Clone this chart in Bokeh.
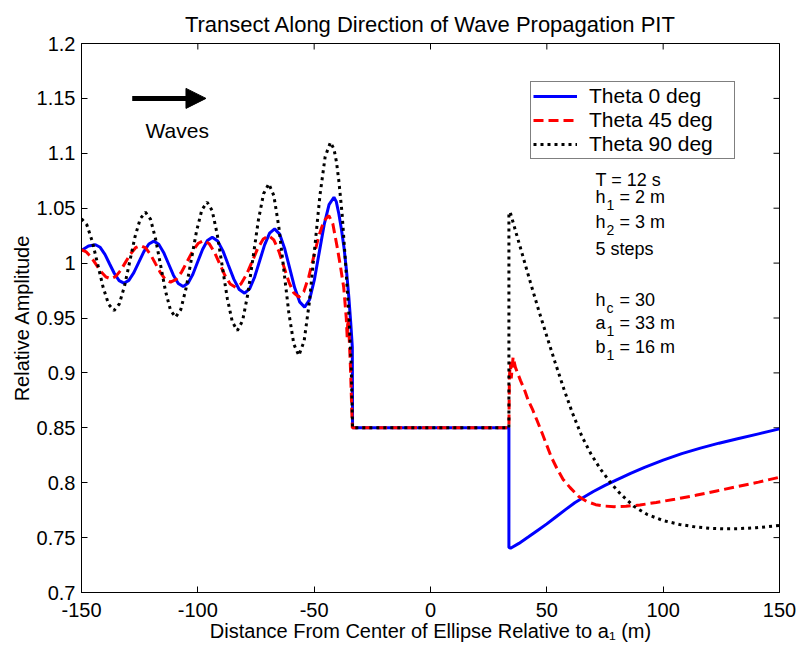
import math
from bokeh.plotting import figure
from bokeh.models import (Range1d, FixedTicker, Legend, LegendItem,
                          Label, Arrow, NormalHead)
from bokeh.embed import file_html
from bokeh.resources import INLINE

# ---------------- data ----------------
series_names = ["Theta 0 deg", "Theta 45 deg", "Theta 90 deg"]
title_text = "Transect Along Direction of Wave Propagation PIT"

x_theta0 = [-150, -147, -144, -141.97, -139.93, -137.9, -135.87, -133.83, -131.8,
            -129.65, -127.5, -125.35, -123.2, -121.05, -118.9, -116.8, -114.7, -112.6,
            -110.5, -108.4, -106.3, -104.22, -102.13, -100.05, -97.97, -95.88, -93.8,
            -91.48, -89.17, -86.85, -84.53, -82.22, -79.9, -77.75, -75.6, -73.45, -71.3,
            -69.15, -67, -64.85, -62.7, -60.55, -58.4, -56.25, -54.1, -52.0, -49.9, -47.8,
            -45.7, -43.6, -41.5, -40.5, -39.4, -38.3, -37.2, -36.1, -35.1, -34.3, -33.6, -33.5,
            33.7, 33.7, 34.4, 38, 42, 46, 50, 54, 58, 62, 66, 70, 75, 80, 86, 92, 100,
            108, 116, 124, 132, 141, 150]
y_theta0 = [1.0115, 1.0155, 1.0167, 1.0144, 1.0080, 0.9992, 0.9905, 0.9840, 0.9817,
            0.9843, 0.9913, 1.0009, 1.0104, 1.0174, 1.02, 1.0172, 1.0097, 0.9994,
            0.9890, 0.9815, 0.9787, 0.9817, 0.9899, 1.0012, 1.0124, 1.0206, 1.0236,
            1.0202, 1.0109, 0.9981, 0.9854, 0.9760, 0.9726, 0.9765, 0.9873, 1.0019, 1.0166,
            1.0273, 1.0312, 1.0264, 1.0134, 0.9956, 0.9777, 0.9647, 0.9599, 0.9666, 0.9849, 1.0100,
            1.0350, 1.0533, 1.06, 1.056, 1.045, 1.031, 1.0145, 0.993, 0.969, 0.946, 0.9234, 0.85,
            0.85, 0.741, 0.7403, 0.7447, 0.7505, 0.7565, 0.7625, 0.769, 0.7755, 0.7818, 0.787,
            0.792, 0.7975, 0.8025, 0.8085, 0.814, 0.8205, 0.8265, 0.8315, 0.836, 0.84, 0.8445, 0.849]

x_theta45 = [-150, -147.92, -145.83, -143.75, -141.67, -139.58, -137.5, -135.35, -133.2,
             -131.05, -128.9, -126.75, -124.6, -122.45, -120.3, -118.15, -116.0, -113.85,
             -111.7, -109.32, -106.93, -104.55, -102.17, -99.78, -97.4, -95.13, -92.87,
             -90.6, -88.33, -86.07, -83.8, -81.42, -79.03, -76.65, -74.27, -71.88, -69.5,
             -67.35, -65.2, -63.05, -60.9, -58.75, -56.6, -54.45, -52.3, -50.15, -48.0,
             -45.85, -43.7, -42.0, -40.1, -38.7, -37.3, -36.2, -35.8, -35.5, -35.0, -34.4, -33.6,
             33.7, 33.9, 34.3, 34.7, 35.5, 36.5, 38.7, 40.5, 42, 44, 45.8, 48, 50, 52, 54.4,
             57, 60, 63.7, 67, 71, 75, 79, 84, 90, 97, 105, 114, 123, 132, 141, 150]
y_theta45 = [1.012, 1.0102, 1.0054, 0.9989, 0.9923, 0.9875, 0.9857, 0.9877, 0.9933,
             1.0009, 1.0084, 1.014, 1.016, 1.0138, 1.0077, 0.9993, 0.9910, 0.9848,
             0.9826, 0.9851, 0.9921, 1.0016, 1.0111, 1.0181, 1.0206, 1.0177, 1.0100,
             0.9993, 0.9887, 0.9809, 0.978, 0.9811, 0.9898, 1.0015, 1.0133, 1.0219, 1.025,
             1.0212, 1.0110, 0.9970, 0.9830, 0.9728, 0.969, 0.9740, 0.9876, 1.0062, 1.0247,
             1.0383, 1.0433, 1.036, 1.0145, 0.997, 0.978, 0.95, 0.932, 0.95, 0.935, 0.905, 0.85,
             0.85, 0.895, 0.91, 0.895, 0.9143, 0.905, 0.893, 0.884, 0.875, 0.866, 0.8566, 0.845,
             0.834, 0.823, 0.8127, 0.803, 0.7955, 0.7875, 0.783, 0.78, 0.7787, 0.7782, 0.7785,
             0.7797, 0.782, 0.785, 0.7885, 0.7925, 0.7965, 0.8005, 0.805]

x_theta90 = [-150, -147.67, -145.33, -143.0, -140.67, -138.33, -136, -133.75, -131.5,
             -129.25, -127.0, -124.75, -122.5, -120.35, -118.2, -116.05, -113.9, -111.75,
             -109.6, -107.33, -105.07, -102.8, -100.53, -98.27, -96, -93.83, -91.67,
             -89.5, -87.33, -85.17, -83, -80.75, -78.5, -76.25, -74.0, -71.75, -69.5,
             -67.35, -65.2, -63.05, -60.9, -58.75, -56.6, -54.33, -52.07, -49.8, -47.53,
             -45.27, -43, -41.5, -40.4, -39.4, -38, -36.5, -35.1, -34.1, -33.5,
             33.7, 33.7, 34.3, 37, 40, 43, 46.5, 50.1, 53.5, 57.3, 61, 65, 69, 73, 77.4,
             82, 87.4, 93, 100, 107, 114, 120, 126, 133, 140, 150]
y_theta90 = [1.0403, 1.0347, 1.0194, 0.9986, 0.9777, 0.9624, 0.9568, 0.9628, 0.9792,
             1.0016, 1.0240, 1.0404, 1.0464, 1.0400, 1.0225, 0.9986, 0.9746, 0.9571,
             0.9507, 0.9577, 0.9769, 1.0031, 1.0293, 1.0485, 1.0555, 1.0477, 1.0263,
             0.9971, 0.9678, 0.9464, 0.9386, 0.9476, 0.9720, 1.0054, 1.0388, 1.0632, 1.0722,
             1.0617, 1.0331, 0.9940, 0.9549, 0.9263, 0.9158, 0.9288, 0.9644, 1.0129, 1.0615,
             1.0970, 1.11, 1.104, 1.092, 1.075, 1.045, 0.9996, 0.954, 0.9086, 0.85,
             0.85, 1.0464, 1.046, 1.026, 1.004, 0.982, 0.957, 0.9326, 0.910, 0.8855, 0.8635,
             0.8425, 0.826, 0.8125, 0.800, 0.789, 0.7785, 0.7712, 0.7655, 0.762, 0.7597,
             0.7585, 0.758, 0.7582, 0.759, 0.761]

x_ticks = [-150, -100, -50, 0, 50, 100, 150]
x_tick_labels = ["-150", "-100", "-50", "0", "50", "100", "150"]
y_ticks = [0.7, 0.75, 0.8, 0.85, 0.9, 0.95, 1.0, 1.05, 1.1, 1.15, 1.2]
y_tick_labels = ["0.7", "0.75", "0.8", "0.85", "0.9", "0.95", "1", "1.05", "1.1", "1.15", "1.2"]

# parameter box text: main part, subscript, remainder
param_main = ["T = 12 s", "h", "h", "5 steps", "h", "a", "b"]
param_sub = ["", "1", "2", "", "c", "1", "1"]
param_rest = ["", "= 2 m", "= 3 m", "", "= 30", "= 33 m", "= 16 m"]
param_baseline_y = [1.0756, 1.0605, 1.0377, 1.0130, 0.9664, 0.9458, 0.9239]

FONT = "Liberation Sans"

p = figure(frame_width=698, frame_height=549, output_backend="svg", toolbar_location=None,
           x_range=Range1d(-150, 150), y_range=Range1d(0.7, 1.2),
           min_border_left=81, min_border_right=19, min_border_top=43, min_border_bottom=62,
           background_fill_color="white", border_fill_color="white")

p.grid.visible = False
p.outline_line_color = "black"
p.outline_line_width = 1

p.title.text = title_text
p.title.align = "center"
p.title.vertical_align = "top"
p.title.text_font = FONT
p.title.text_font_size = "22px"
p.title.text_font_style = "normal"
p.title.text_color = "black"
p.title.standoff = 10

def style_axis(ax, ticks, labels, standoff):
    ax.ticker = FixedTicker(ticks=ticks)
    ax.major_label_overrides = {t: l for t, l in zip(ticks, labels)}
    ax.major_tick_in = 6
    ax.major_tick_out = 0
    ax.minor_tick_in = 0
    ax.minor_tick_out = 0
    ax.axis_line_color = "black"
    ax.major_tick_line_color = "black"
    ax.major_label_text_font = FONT
    ax.major_label_text_color = "black"
    ax.major_label_standoff = standoff
    ax.major_label_text_font_size = "20px"
    ax.axis_label_text_font = FONT
    ax.axis_label_text_font_size = "20px"
    ax.axis_label_text_font_style = "normal"
    ax.axis_label_text_color = "black"

style_axis(p.xaxis[0], x_ticks, x_tick_labels, standoff=10)
style_axis(p.yaxis[0], y_ticks, y_tick_labels, standoff=6)
p.xaxis[0].axis_label = "Distance From Center of Ellipse Relative to a\u2081 (m)"
p.xaxis[0].axis_label_standoff = 0
p.yaxis[0].axis_label = "Relative Amplitude"
p.yaxis[0].axis_label_standoff = 1

# inward tick marks on the top and right edges of the box (clipped to the frame)
p.scatter(x=x_ticks, y=[p.y_range.end] * len(x_ticks), marker="dash", size=12,
          angle=math.pi / 2, line_color="black", line_width=1)
p.scatter(x=[p.x_range.end] * len(y_ticks), y=y_ticks, marker="dash", size=12,
          line_color="black", line_width=1)

r0 = p.line(x_theta0, y_theta0, line_color="#0000ff", line_width=3)
r45 = p.line(x_theta45, y_theta45, line_color="#ff0000", line_width=3, line_dash="10 5")
r90 = p.line(x_theta90, y_theta90, line_color="black", line_width=3, line_dash="3 4")

legend = Legend(items=[LegendItem(label=series_names[0], renderers=[r0]),
                       LegendItem(label=series_names[1], renderers=[r45]),
                       LegendItem(label=series_names[2], renderers=[r90])],
                location=(449, 433), margin=0, padding=2, spacing=0,
                glyph_width=44, glyph_height=20, label_standoff=12, label_height=20,
                label_width=143,
                label_text_font=FONT, label_text_font_size="21px", label_text_color="black",
                border_line_color="black", border_line_width=1,
                background_fill_color="white", background_fill_alpha=1.0)
p.add_layout(legend)

# Waves arrow and label
p.add_layout(Arrow(end=NormalHead(size=20, fill_color="black", line_color="black"),
                   x_start=-128.2, y_start=1.15, x_end=-96.5, y_end=1.15,
                   line_width=5, line_color="black"))
p.add_layout(Label(x=-122.5, y=1.1212, text="Waves", text_font=FONT, text_font_size="21px",
                   text_baseline="alphabetic", text_color="black"))

# parameter block
px0 = 70.9
for m, s, r, yb in zip(param_main, param_sub, param_rest, param_baseline_y):
    p.add_layout(Label(x=px0, y=yb, text=m, text_font=FONT, text_font_size="18px",
                       text_baseline="alphabetic", text_color="black"))
    if s:
        p.add_layout(Label(x=px0, y=yb, x_offset=11, y_offset=-8, text=s, text_font=FONT,
                           text_font_size="14px", text_baseline="alphabetic", text_color="black"))
    if r:
        p.add_layout(Label(x=px0, y=yb, x_offset=24, text=r, text_font=FONT,
                           text_font_size="18px", text_baseline="alphabetic", text_color="black"))

open("out.html", "w").write(file_html(p, INLINE))
